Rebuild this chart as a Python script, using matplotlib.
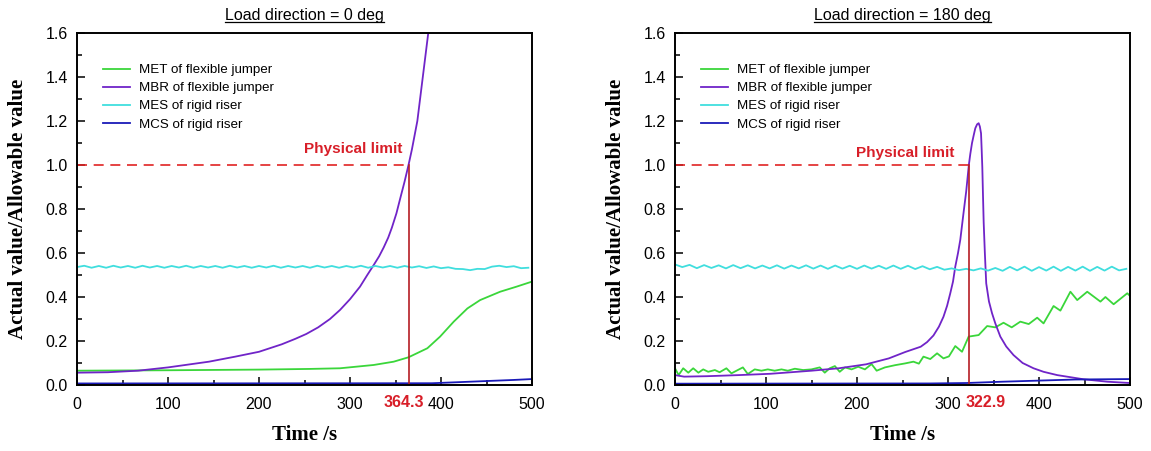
import numpy as np
import matplotlib
matplotlib.use("Agg")
import matplotlib.pyplot as plt
from matplotlib.lines import Line2D
from matplotlib.ticker import MultipleLocator

plt.rcParams["font.family"] = ["Liberation Sans", "DejaVu Sans"]

# Load direction = 0 deg
t0_met = [0, 100, 200, 255, 289, 326, 348, 364.3, 385, 399, 414, 429, 443, 465, 483, 500]
v0_met = [0.065, 0.067, 0.07, 0.073, 0.076, 0.091, 0.106, 0.126, 0.167, 0.22, 0.288, 0.348,
          0.386, 0.424, 0.447, 0.47]
t0_mbr = [0, 34, 67, 100, 145, 174, 200, 225, 240, 252, 265, 278, 289, 300, 311, 319, 326,
          332, 337, 342, 346, 351, 355, 360, 364.3, 368, 374, 380, 386, 392]
v0_mbr = [0.056, 0.058, 0.065, 0.08, 0.106, 0.129, 0.151, 0.185, 0.21, 0.232, 0.262, 0.30,
          0.341, 0.39, 0.447, 0.50, 0.545, 0.585, 0.625, 0.67, 0.715, 0.78, 0.845, 0.925, 1.0,
          1.07, 1.2, 1.4, 1.6, 1.8]
t0_mes = np.arange(0, 504, 8)
v0_mes = [0.536, 0.542, 0.533, 0.541, 0.533, 0.542, 0.534, 0.541, 0.533, 0.542, 0.534, 0.541,
          0.533, 0.541, 0.534, 0.542, 0.533, 0.541, 0.534, 0.541, 0.533, 0.542, 0.534, 0.541,
          0.533, 0.541, 0.534, 0.542, 0.533, 0.541, 0.534, 0.541, 0.533, 0.542, 0.534, 0.541,
          0.533, 0.541, 0.534, 0.542, 0.533, 0.541, 0.534, 0.541, 0.533, 0.541, 0.534, 0.540,
          0.532, 0.539, 0.531, 0.535, 0.528, 0.527, 0.522, 0.528, 0.527, 0.538, 0.542, 0.536,
          0.540, 0.531, 0.533]
t0_mcs = [0, 390, 420, 450, 480, 500]
v0_mcs = [0.007, 0.008, 0.013, 0.018, 0.023, 0.027]

# Load direction = 180 deg
t180_met = [0, 4, 9, 14.6, 20, 25.7, 31, 36.5, 43.8, 49, 56.5, 62, 69, 74.6, 80, 87.6, 95, 102,
            109.5, 117, 124, 131.7, 140.8, 150, 159, 164.6, 170, 175.7, 181, 186.8, 194, 201.3,
            208.7, 216, 221.6, 230.7, 241.7, 252.7, 262, 268, 273, 280.5, 288, 295, 301, 308,
            315.4, 322.7, 333.7, 343, 352, 361, 370, 379.5, 388.7, 398, 405, 416, 423.5, 434.5,
            442, 453, 467.5, 473, 482, 497, 500]
v180_met = [0.076, 0.045, 0.076, 0.056, 0.076, 0.056, 0.071, 0.06, 0.068, 0.058, 0.076, 0.053,
            0.068, 0.08, 0.05, 0.071, 0.065, 0.071, 0.065, 0.071, 0.065, 0.074, 0.068, 0.071,
            0.08, 0.056, 0.076, 0.086, 0.06, 0.08, 0.071, 0.083, 0.071, 0.095, 0.065, 0.08,
            0.09, 0.098, 0.106, 0.097, 0.129, 0.118, 0.144, 0.121, 0.13, 0.177, 0.151, 0.22,
            0.227, 0.268, 0.262, 0.283, 0.262, 0.288, 0.277, 0.306, 0.28, 0.359, 0.338, 0.424,
            0.386, 0.424, 0.379, 0.40, 0.367, 0.417, 0.405]
t180_mbr = [0, 10, 35, 70, 105, 150, 180, 210, 235, 253, 270, 277, 284, 290, 295, 299, 302.5,
            305.5, 308, 311, 313.5, 317, 320, 322.9, 324.5, 326.4, 328.5, 330, 332, 333.7, 335,
            336.3, 337, 337.7, 338.4, 339.2, 340.5, 342, 345, 348.4, 352, 357.5, 364, 372, 382,
            394, 405, 420, 449, 475, 500]
v180_mbr = [0.045, 0.038, 0.04, 0.045, 0.051, 0.065, 0.076, 0.094, 0.121, 0.15, 0.174, 0.195,
            0.225, 0.265, 0.31, 0.36, 0.417, 0.47, 0.538, 0.60, 0.66, 0.78, 0.88, 1.0, 1.05,
            1.10, 1.14, 1.167, 1.185, 1.19, 1.175, 1.144, 1.07, 0.99, 0.87, 0.74, 0.6, 0.462,
            0.38, 0.326, 0.28, 0.22, 0.175, 0.136, 0.1, 0.076, 0.06, 0.045, 0.026, 0.015, 0.009]
t180_mes = np.arange(0, 504, 8)
v180_mes = [0.548, 0.536, 0.546, 0.531, 0.545, 0.532, 0.544, 0.530, 0.545, 0.531, 0.544, 0.530,
            0.543, 0.530, 0.544, 0.529, 0.543, 0.530, 0.544, 0.529, 0.543, 0.528, 0.543, 0.529,
            0.542, 0.528, 0.543, 0.529, 0.542, 0.528, 0.543, 0.528, 0.542, 0.527, 0.540, 0.526,
            0.537, 0.524, 0.530, 0.522, 0.528, 0.521, 0.530, 0.520, 0.532, 0.519, 0.537, 0.521,
            0.538, 0.519, 0.536, 0.520, 0.538, 0.519, 0.537, 0.520, 0.538, 0.519, 0.537, 0.520,
            0.538, 0.521, 0.528]
t180_mcs = [0, 280, 320, 360, 400, 440, 470, 500]
v180_mcs = [0.006, 0.007, 0.009, 0.015, 0.02, 0.025, 0.026, 0.027]

# limit crossing times
t_cross = [364.3, 322.9]

labels = ["MET of flexible jumper", "MBR of flexible jumper", "MES of rigid riser", "MCS of rigid riser"]
colors = ["#3ad63a", "#7024c8", "#40dede", "#1a1ab8"]

fig = plt.figure(figsize=(11.51, 4.51), dpi=100)
ax0 = fig.add_axes([77 / 1151, 66 / 451, 455 / 1151, 352 / 451])
ax1 = fig.add_axes([675 / 1151, 66 / 451, 455 / 1151, 352 / 451])


def draw_panel(ax, title, series, tc, txt_x, txt_y, lbl_x):
    for (t, v), lab, c in zip(series, labels, colors):
        ax.plot(t, v, color=c, lw=1.3, label=lab)

    # physical limit marks
    ax.plot([0, tc], [1.0, 1.0], color="#e02424", lw=1.2, dashes=(6, 4))
    ax.plot([tc, tc], [0, 1.0], color="#b51e24", lw=1.2)
    ax.text(txt_x, txt_y, "Physical limit", color="#d81e28", fontsize=11, fontweight="bold",
            ha="right", va="center")
    ax.text(lbl_x, -0.051, f"{tc:.1f}", transform=ax.get_xaxis_transform(), color="#d81e28",
            fontsize=11.5, fontweight="bold", ha="center", va="center")

    ax.set_xlim(0, 500)
    ax.set_ylim(0, 1.6)
    ax.xaxis.set_major_locator(MultipleLocator(100))
    ax.xaxis.set_minor_locator(MultipleLocator(50))
    ax.yaxis.set_major_locator(MultipleLocator(0.2))
    ax.yaxis.set_minor_locator(MultipleLocator(0.1))
    ax.yaxis.set_major_formatter(lambda y, p: f"{y:.1f}")
    ax.tick_params(which="both", direction="in", width=1.1, labelsize=11.5)
    ax.tick_params(which="major", length=6)
    ax.tick_params(which="minor", length=3.5)
    ax.tick_params(axis="x", pad=8.5)
    ax.tick_params(axis="y", pad=6.5)
    for s in ax.spines.values():
        s.set_linewidth(1.4)

    ax.set_xlabel("Time /s", family="Liberation Serif", fontweight="bold", fontsize=15)
    ax.xaxis.set_label_coords(0.5, -50 / 352)
    ax.xaxis.label.set_va("center")
    ax.set_ylabel("Actual value/Allowable value", family="Liberation Serif",
                  fontweight="bold", fontsize=15)
    ax.yaxis.set_label_coords(-59 / 455, 0.5)
    ax.yaxis.label.set_va("center")

    ax.legend(loc="upper left", bbox_to_anchor=(0.057, 0.912), frameon=False, fontsize=9.6,
              handlelength=2.0, handletextpad=0.7, labelspacing=0.43, borderpad=0,
              borderaxespad=0)
    return ax.text(0.5, 1 + 18 / 352, title, transform=ax.transAxes, fontsize=11.5,
                   ha="center", va="center")


titles = []
titles.append(draw_panel(ax0, "Load direction = 0 deg",
                         [(t0_met, v0_met), (t0_mbr, v0_mbr), (t0_mes, v0_mes), (t0_mcs, v0_mcs)],
                         t_cross[0], 358, 1.075, 359.6))
titles.append(draw_panel(ax1, "Load direction = 180 deg",
                         [(t180_met, v180_met), (t180_mbr, v180_mbr), (t180_mes, v180_mes),
                          (t180_mcs, v180_mcs)],
                         t_cross[1], 307, 1.055, 341.6))

# underline the panel titles
fig.canvas.draw()
inv = fig.transFigure.inverted()
for t in titles:
    bb = t.get_window_extent()
    (x0, y0), (x1, _) = inv.transform([(bb.x0, bb.y0 + 1), (bb.x1, bb.y0 + 1)])
    fig.add_artist(Line2D([x0, x1], [y0, y0], transform=fig.transFigure, color="black", lw=0.9))

fig.savefig("out.png", dpi=100)
